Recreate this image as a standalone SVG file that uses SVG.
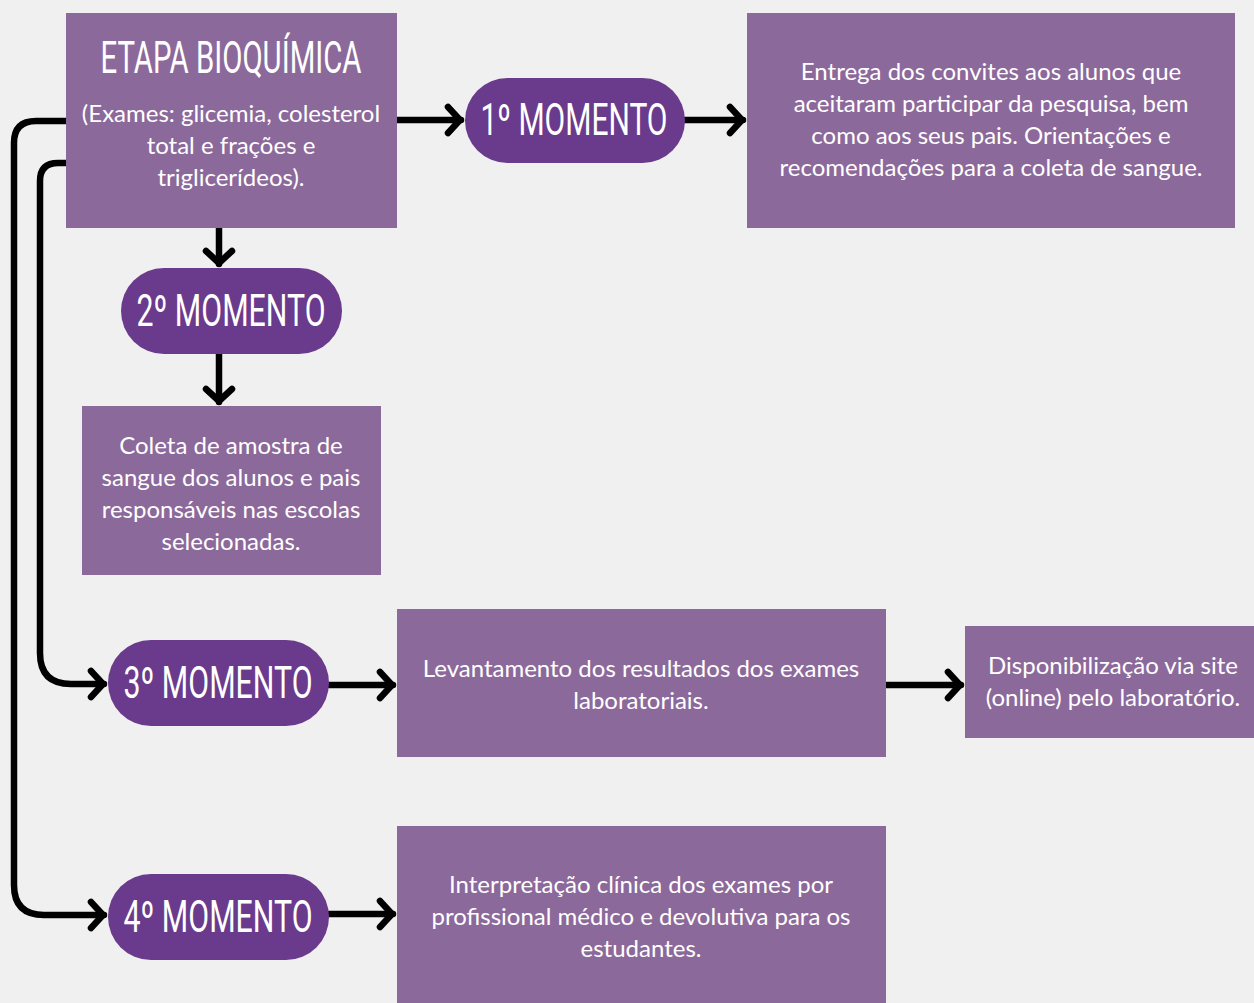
<svg xmlns="http://www.w3.org/2000/svg" width="1254" height="1003" viewBox="0 0 1254 1003">
<defs>
<style>
.box{fill:#8c699b}
.pill{fill:#6a3a8c}
.t{font-family:Lato,"Open Sans","Liberation Sans",sans-serif;font-size:24px;fill:#ffffff;text-anchor:middle}
.h{font-family:Roboto,"Liberation Sans",sans-serif;font-size:44px;font-weight:400;fill:#ffffff;text-anchor:middle}
.c{fill:none;stroke:#000;stroke-width:6.5;stroke-linecap:round;stroke-linejoin:round}
</style>
<marker id="ah" markerUnits="userSpaceOnUse" viewBox="-16 -16 20 32" refX="0" refY="0" markerWidth="20" markerHeight="32" orient="auto" overflow="visible">
<path d="M-13,-13 L-1,0 L-13,13" fill="none" stroke="#000" stroke-width="6.5" stroke-linecap="round" stroke-linejoin="round"/>
</marker>
</defs>
<rect width="1254" height="1003" fill="#f0f0f0"/>
<g id="connectors">
<path class="c" d="M66,121 H36 Q14,121 14,143 V885 Q14,915 44,915 H104" marker-end="url(#ah)"/>
<path class="c" d="M66,163 H58 Q40,163 40,181 V653 Q40,684 71,684 H104" marker-end="url(#ah)"/>
<path class="c" d="M397,120 H461" marker-end="url(#ah)"/>
<path class="c" d="M685,120 H743" marker-end="url(#ah)"/>
<path class="c" d="M219,228 V264" marker-end="url(#ah)"/>
<path class="c" d="M219,354 V402" marker-end="url(#ah)"/>
<path class="c" d="M329,685 H393" marker-end="url(#ah)"/>
<path class="c" d="M886,685 H961" marker-end="url(#ah)"/>
<path class="c" d="M329,914 H393" marker-end="url(#ah)"/>
</g>
<g id="etapa">
<rect class="box" x="66" y="13" width="331" height="215"/>
<text class="h" x="231" y="73" font-size="42" textLength="261" lengthAdjust="spacingAndGlyphs">ETAPA BIOQUÍMICA</text>
<text class="t" x="231" y="122">(Exames: glicemia, colesterol</text>
<text class="t" x="231" y="154">total e frações e</text>
<text class="t" x="231" y="186">triglicerídeos).</text>
</g>
<g id="m1">
<rect class="pill" x="465" y="78" width="220" height="85" rx="42.5"/>
<text class="h" x="574" y="135" textLength="187" lengthAdjust="spacingAndGlyphs">1º MOMENTO</text>
</g>
<g id="m1-desc">
<rect class="box" x="747" y="13" width="488" height="215"/>
<text class="t" x="991" y="80">Entrega dos convites aos alunos que</text>
<text class="t" x="991" y="112">aceitaram participar da pesquisa, bem</text>
<text class="t" x="991" y="144">como aos seus pais. Orientações e</text>
<text class="t" x="991" y="176">recomendações para a coleta de sangue.</text>
</g>
<g id="m2">
<rect class="pill" x="121" y="268" width="221" height="86" rx="43"/>
<text class="h" x="231" y="326" textLength="189" lengthAdjust="spacingAndGlyphs">2º MOMENTO</text>
</g>
<g id="m2-desc">
<rect class="box" x="82" y="406" width="299" height="169"/>
<text class="t" x="231" y="454">Coleta de amostra de</text>
<text class="t" x="231" y="486">sangue dos alunos e pais</text>
<text class="t" x="231" y="518">responsáveis nas escolas</text>
<text class="t" x="231" y="550">selecionadas.</text>
</g>
<g id="m3">
<rect class="pill" x="108" y="640" width="221" height="86" rx="43"/>
<text class="h" x="218" y="698" textLength="189" lengthAdjust="spacingAndGlyphs">3º MOMENTO</text>
</g>
<g id="m3-desc">
<rect class="box" x="397" y="609" width="489" height="148"/>
<text class="t" x="641" y="677">Levantamento dos resultados dos exames</text>
<text class="t" x="641" y="709">laboratoriais.</text>
</g>
<g id="m3-site">
<rect class="box" x="965" y="626" width="289" height="112"/>
<text class="t" x="1113" y="674">Disponibilização via site</text>
<text class="t" x="1113" y="706">(online) pelo laboratório.</text>
</g>
<g id="m4">
<rect class="pill" x="108" y="874" width="221" height="86" rx="43"/>
<text class="h" x="218" y="932" textLength="189" lengthAdjust="spacingAndGlyphs">4º MOMENTO</text>
</g>
<g id="m4-desc">
<rect class="box" x="397" y="826" width="489" height="177"/>
<text class="t" x="641" y="893">Interpretação clínica dos exames por</text>
<text class="t" x="641" y="925">profissional médico e devolutiva para os</text>
<text class="t" x="641" y="957">estudantes.</text>
</g>
</svg>
